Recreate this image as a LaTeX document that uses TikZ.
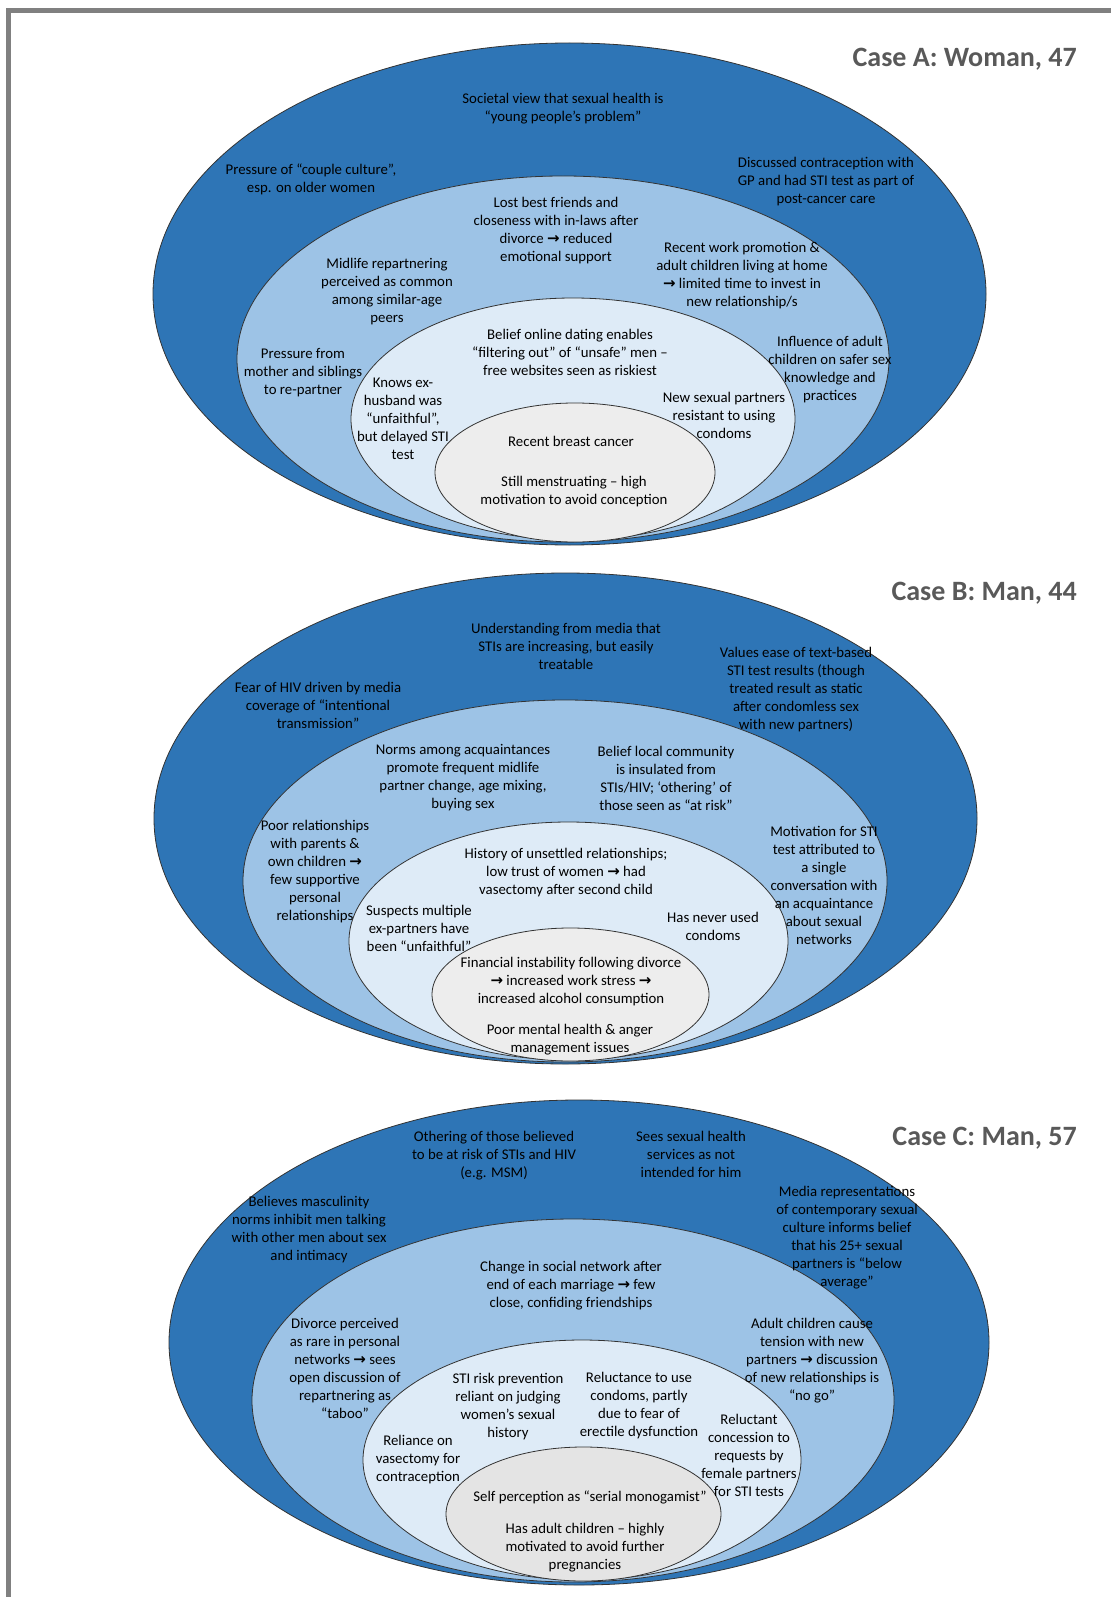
\documentclass[tikz,border=0pt]{standalone}
\usepackage{fontspec}
\setmainfont{Carlito}
\newfontfamily\symfont{DejaVu Sans}
\newcommand\rarr{{\symfont\bfseries\fontsize{15}{18}\selectfont →}}
\newcommand\lblfont{\fontsize{14.8}{18}\selectfont}
\definecolor{outerblue}{HTML}{2E75B6}
\definecolor{midblue}{HTML}{9DC3E6}
\definecolor{innerblue}{HTML}{DEEBF7}
\definecolor{coregray}{HTML}{EDEDED}
\definecolor{coregrayC}{HTML}{E4E4E4}
\definecolor{titlegray}{HTML}{595959}
\definecolor{framegray}{HTML}{808080}
\definecolor{edgegray}{HTML}{333333}
\tikzset{
  ring/.style={draw=edgegray, line width=0.8pt},
  lbl/.style={align=center, font=\lblfont, inner sep=0pt, text=black},
  casetitle/.style={anchor=base east, inner sep=0pt, text=titlegray, font=\fontsize{28}{32}\selectfont\bfseries}
}
\begin{document}
\begin{tikzpicture}[x=1pt,y=-1pt]
\useasboundingbox (0,0) rectangle (1111,1597);
\fill[white] (0,0) rectangle (1111,1597);
\draw[framegray, line width=4.5pt] (8.5,1597) -- (8.5,10.7) -- (1111,10.7);

% ---------- Case A ----------
\draw[ring, fill=outerblue] (569.5,294) ellipse [x radius=416.5pt, y radius=251pt];
\draw[ring, fill=midblue] (563,359) ellipse [x radius=326pt, y radius=183pt];
\draw[ring, fill=innerblue] (573,419) ellipse [x radius=222pt, y radius=121pt];
\draw[ring, fill=coregray] (575,472.5) ellipse [x radius=140pt, y radius=69.5pt];

\node[casetitle] (tA) at (1077,67) {Case A: Woman, 47};
\node[lbl] (a1) at (563,109) {Societal view that sexual health is\\“young people’s problem”};
\node[lbl] (a2) at (311,179) {Pressure of “couple culture”,\\esp. on older women};
\node[lbl] (a3) at (826,182) {Discussed contraception with\\GP and had STI test as part of\\post-cancer care};
\node[lbl] (a4) at (556,231) {Lost best friends and\\closeness with in-laws after\\divorce \rarr{} reduced\\emotional support};
\node[lbl] (a5) at (387,292) {Midlife repartnering\\perceived as common\\among similar-age\\peers};
\node[lbl] (a6) at (742,276) {Recent work promotion \&\\adult children living at home\\\rarr{} limited time to invest in\\new relationship/s};
\node[lbl] (a7) at (303,373) {Pressure from\\mother and siblings\\to re-partner};
\node[lbl] (a8) at (830,370) {Influence of adult\\children on safer sex\\knowledge and\\practices};
\node[lbl] (a9) at (570,352) {Belief online dating enables\\“filtering out” of “unsafe” men –\\free websites seen as riskiest};
\node[lbl] (a10) at (403,419) {Knows ex-\\husband was\\“unfaithful”,\\but delayed STI\\test};
\node[lbl] (a11) at (724,415) {New sexual partners\\resistant to using\\condoms};
\node[lbl] (a12) at (571,441) {Recent breast cancer};
\node[lbl] (a13) at (574,492) {Still menstruating – high\\motivation to avoid conception};

% ---------- Case B ----------
\draw[ring, fill=outerblue] (565.5,818.5) ellipse [x radius=411.5pt, y radius=245.5pt];
\draw[ring, fill=midblue] (565,881) ellipse [x radius=322pt, y radius=181pt];
\draw[ring, fill=innerblue] (568.5,941) ellipse [x radius=219.5pt, y radius=119pt];
\draw[ring, fill=coregray] (570.5,994.5) ellipse [x radius=138.5pt, y radius=66.5pt];

\node[casetitle] (tB) at (1077,600) {Case B: Man, 44};
\node[lbl] (b1) at (566,646) {Understanding from media that\\STIs are increasing, but easily\\treatable};
\node[lbl] (b2) at (318,705) {Fear of HIV driven by media\\coverage of “intentional\\transmission”};
\node[lbl] (b3) at (796,690) {Values ease of text-based\\STI test results (though\\treated result as static\\after condomless sex\\with new partners)};
\node[lbl] (b4) at (463,778) {Norms among acquaintances\\promote frequent midlife\\partner change, age mixing,\\buying sex};
\node[lbl] (b5) at (666,778) {Belief local community\\is insulated from\\STIs/HIV; ‘othering’ of\\those seen as “at risk”};
\node[lbl] (b6) at (315,872) {Poor relationships\\with parents \&\\own children \rarr\\few supportive\\personal\\relationships};
\node[lbl] (b7) at (824,885) {Motivation for STI\\test attributed to\\a single\\conversation with\\an acquaintance\\about sexual\\networks};
\node[lbl] (b8) at (566,873) {History of unsettled relationships;\\low trust of women \rarr{} had\\vasectomy after second child};
\node[lbl] (b9) at (419,928) {Suspects multiple\\ex-partners have\\been “unfaithful”};
\node[lbl] (b10) at (713,926) {Has never used\\condoms};
\node[lbl] (b11) at (571,982) {Financial instability following divorce\\\rarr{} increased work stress \rarr\\increased alcohol consumption};
\node[lbl] (b12) at (570,1040) {Poor mental health \& anger\\management issues};

% ---------- Case C ----------
\draw[ring, fill=outerblue] (579,1342.5) ellipse [x radius=410pt, y radius=242.5pt];
\draw[ring, fill=midblue] (573,1400.5) ellipse [x radius=321pt, y radius=181.5pt];
\draw[ring, fill=innerblue] (582,1460) ellipse [x radius=219pt, y radius=120pt];
\draw[ring, fill=coregrayC] (583.5,1514) ellipse [x radius=137.5pt, y radius=67pt];

\node[casetitle] (tC) at (1077,1145) {Case C: Man, 57};
\node[lbl] (c1) at (494,1156) {Othering of those believed\\to be at risk of STIs and HIV\\(e.g. MSM)};
\node[lbl] (c2) at (691,1154) {Sees sexual health\\services as not\\intended for him};
\node[lbl] (c3) at (309,1230) {Believes masculinity\\norms inhibit men talking\\with other men about sex\\and intimacy};
\node[lbl] (c4) at (847,1238) {Media representations\\of contemporary sexual\\culture informs belief\\that his 25+ sexual\\partners is “below\\average”};
\node[lbl] (c5) at (571,1286) {Change in social network after\\end of each marriage \rarr{} few\\close, confiding friendships};
\node[lbl] (c6) at (345,1368) {Divorce perceived\\as rare in personal\\networks \rarr{} sees\\open discussion of\\repartnering as\\“taboo”};
\node[lbl] (c7) at (812,1361) {Adult children cause\\tension with new\\partners \rarr{} discussion\\of new relationships is\\“no go”};
\node[lbl] (c8) at (508,1407) {STI risk prevention\\reliant on judging\\women’s sexual\\history};
\node[lbl] (c9) at (639,1406) {Reluctance to use\\condoms, partly\\due to fear of\\erectile dysfunction};
\node[lbl] (c10) at (418,1460) {Reliance on\\vasectomy for\\contraception};
\node[lbl] (c11) at (749,1455) {Reluctant\\concession to\\requests by\\female partners\\for STI tests};
\node[lbl] (c12) at (590,1497) {Self perception as “serial monogamist”};
\node[lbl] (c13) at (585,1548) {Has adult children – highly\\motivated to avoid further\\pregnancies};
\end{tikzpicture}
\end{document}
